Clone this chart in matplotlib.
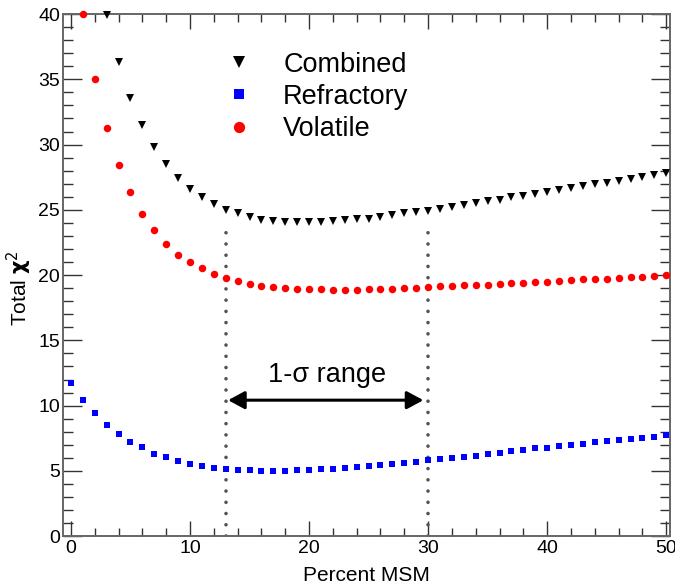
import numpy as np
import matplotlib
matplotlib.use("Agg")
import matplotlib.pyplot as plt
from matplotlib.ticker import MultipleLocator

plt.rcParams['font.family'] = ['Liberation Sans', 'DejaVu Sans']
plt.rcParams['mathtext.fontset'] = 'dejavusans'

# ---------------- data ----------------
x_comb = np.arange(3, 51)
chi2_comb = [39.9, 36.3, 33.6, 31.5, 29.8, 28.5, 27.45, 26.6, 25.95, 25.45,
             24.97, 24.73, 24.42, 24.24, 24.11, 24.06, 24.05, 24.05, 24.06, 24.14,
             24.19, 24.27, 24.32, 24.44, 24.6, 24.74, 24.8, 24.92, 25.1, 25.24,
             25.36, 25.52, 25.65, 25.77, 25.95, 26.08, 26.23, 26.36, 26.54, 26.64,
             26.8, 26.95, 27.07, 27.18, 27.38, 27.49, 27.64, 27.82]

x_refr = np.arange(0, 51)
chi2_refr = [11.75, 10.47, 9.43, 8.53, 7.82, 7.23, 6.8, 6.31, 6.03, 5.75,
             5.54, 5.36, 5.21, 5.13, 5.08, 5.04, 5.03, 5.03, 5.03, 5.04,
             5.08, 5.13, 5.16, 5.21, 5.29, 5.41, 5.49, 5.54, 5.6, 5.72,
             5.8, 5.92, 6.0, 6.1, 6.18, 6.31, 6.38, 6.51, 6.59, 6.72,
             6.77, 6.9, 6.97, 7.1, 7.18, 7.3, 7.36, 7.43, 7.56, 7.61, 7.74]

x_vol = np.arange(1, 51)
chi2_vol = [40.0, 35.0, 31.24, 28.43, 26.36, 24.67, 23.45, 22.38, 21.58, 20.97,
            20.51, 20.12, 19.8, 19.53, 19.31, 19.18, 19.06, 19.0, 18.95, 18.95,
            18.9, 18.88, 18.88, 18.88, 18.93, 18.95, 18.97, 19.02, 19.04, 19.08,
            19.14, 19.16, 19.21, 19.27, 19.28, 19.34, 19.4, 19.42, 19.46, 19.51,
            19.58, 19.6, 19.67, 19.71, 19.73, 19.8, 19.86, 19.87, 19.92, 20.0]

sigma_lo, sigma_hi = 13, 30
sigma_top = 24.0
arrow_y = 10.42

# ---------------- figure ----------------
fig = plt.figure(figsize=(6.75, 5.86), dpi=100)
ax = fig.add_axes([0.094, 0.085, 0.899, 0.891])

ax.plot(x_comb, chi2_comb, 'v', color='black', ms=5.5, mew=0, ls='none',
        label='Combined', clip_on=False, zorder=3)
ax.plot(x_refr, chi2_refr, 's', color='#0000ff', ms=4.4, mew=0, ls='none',
        label='Refractory', clip_on=False, zorder=3)
ax.plot(x_vol, chi2_vol, 'o', color='#ff0000', ms=5.4, mew=0, ls='none',
        label='Volatile', clip_on=False, zorder=3)

# 1-sigma markers
for xv in (sigma_lo, sigma_hi):
    ax.plot([xv, xv], [0, sigma_top], color='#4f545a', lw=2.6,
            ls=(0, (0.01, 3.1)), dash_capstyle='round', zorder=2)

ax.annotate('', xy=(sigma_lo + 0.2, arrow_y), xytext=(sigma_hi - 0.4, arrow_y),
            arrowprops=dict(arrowstyle='<|-|>,head_length=0.5,head_width=0.27',
                            mutation_scale=20, lw=2.2, color='black',
                            shrinkA=0, shrinkB=0))
ax.text(21.5, 11.82, '1-σ range', ha='center', va='baseline', fontsize=19.5)

ax.set_xlim(-0.63, 50.34)
ax.set_ylim(0, 40)

ax.xaxis.set_major_locator(MultipleLocator(10))
ax.xaxis.set_minor_locator(MultipleLocator(2))
ax.yaxis.set_major_locator(MultipleLocator(5))
ax.yaxis.set_minor_locator(MultipleLocator(1))
ax.tick_params(which='both', direction='in', top=True, right=True,
               color='#333333', width=1.0, labelsize=14)
ax.tick_params(axis='x', which='major', length=11, pad=3)
ax.tick_params(axis='x', which='minor', length=6)
ax.tick_params(axis='y', which='major', length=14, pad=2.5)
ax.tick_params(axis='y', which='minor', length=7)

for sp in ax.spines.values():
    sp.set_color('#666666')
    sp.set_linewidth(1.4)

ax.set_xlabel('Percent MSM', fontsize=15, labelpad=6)
ax.set_ylabel(r'Total $\mathbf{\chi}^{2}$', fontsize=15, va='center')
ax.yaxis.set_label_coords(-0.073, 0.476)

ax.legend(loc='upper left', bbox_to_anchor=(0.267, 0.928), frameon=False,
          fontsize=19.5, markerscale=1.5, handlelength=1.0, handletextpad=1.13,
          labelspacing=0.23, borderpad=0, borderaxespad=0)

fig.savefig('out.png', dpi=100)
